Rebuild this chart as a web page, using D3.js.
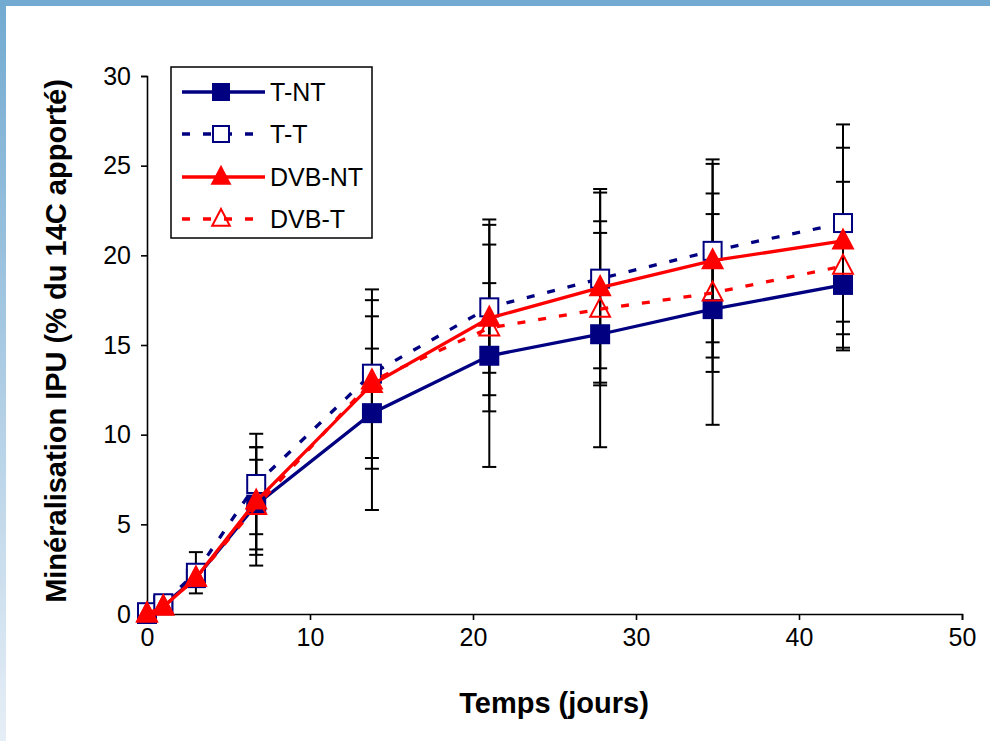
<!DOCTYPE html>
<html><head><meta charset="utf-8">
<script src="https://cdn.jsdelivr.net/npm/d3@7"></script>
<style>
html,body{margin:0;padding:0;background:#fff;}
svg{display:block;font-family:Arial,"Liberation Sans",sans-serif;}
</style></head>
<body>
<svg id="c" width="990" height="741"></svg>
<script>
const days = [0, 1, 3, 6.7, 13.8, 21, 27.8, 34.7, 42.7];
const seriesNames = ["T-NT", "T-T", "DVB-NT", "DVB-T"];
const valTNT  = [0, 0.5, 2.0, 6.1, 11.2, 14.4, 15.6, 17.0, 18.35];
const valTT   = [0.1, 0.6, 2.3, 7.25, 13.4, 17.1, 18.7, 20.25, 21.8];
const valDVBNT= [0, 0.4, 2.0, 6.3, 12.8, 16.5, 18.2, 19.7, 20.8];
const valDVBT = [0, 0.4, 2.0, 6.0, 13.0, 15.95, 17.0, 17.9, 19.4];
const errTNT  = [0, 0.2, 0.3, 2.5, 5.4, 6.2, 6.3, 6.45, 3.5];
const errTT   = [0, 0.2, 1.15, 2.8, 4.7, 4.9, 5.0, 5.1, 5.5];
const errDVBNT= [0, 0.2, 0.3, 3.0, 4.7, 5.2, 5.3, 5.4, 5.2];
const errDVBT = [0, 0.2, 0.3, 3.3, 1.8, 2.5, 4.25, 4.4, 4.7];
const xTicks = [0, 10, 20, 30, 40, 50];
const yTicks = [0, 5, 10, 15, 20, 25, 30];
const xTitle = "Temps (jours)";
const yTitle = "Minéralisation IPU (% du 14C apporté)";

const navy = "#000080", red = "#ff0000";
const styles = [
  {color: navy, dash: null, marker: "square", filled: true},
  {color: navy, dash: "8,13", marker: "square", filled: false},
  {color: red, dash: null, marker: "triangle", filled: true},
  {color: red, dash: "8,13", marker: "triangle", filled: false}
];
const vals = [valTNT, valTT, valDVBNT, valDVBT];
const errs = [errTNT, errTT, errDVBNT, errDVBT];

const svg = d3.select("#c");
// frame decoration
const defs = svg.append("defs");
const lg = defs.append("linearGradient").attr("id","lb").attr("x1",0).attr("y1",0).attr("x2",0).attr("y2",1);
lg.append("stop").attr("offset","0%").attr("stop-color","#72aad1");
lg.append("stop").attr("offset","100%").attr("stop-color","#e6eef6");
svg.append("rect").attr("x",0).attr("y",0).attr("width",6).attr("height",741).attr("fill","url(#lb)");
svg.append("rect").attr("x",0).attr("y",0).attr("width",990).attr("height",6).attr("fill","#72aad1");

const x = d3.scaleLinear().domain([0, 50]).range([147, 962]);
const y = d3.scaleLinear().domain([0, 30]).range([614, 76]);

// axes
const gx = svg.append("g").attr("transform", `translate(0,${y(0)})`)
  .call(d3.axisBottom(x).tickValues(xTicks).tickSize(6).tickPadding(8));
const gy = svg.append("g").attr("transform", `translate(${x(0)},0)`)
  .call(d3.axisLeft(y).tickValues(yTicks).tickSize(6).tickPadding(10));
[gx, gy].forEach(g => {
  g.select(".domain").attr("stroke","#000").attr("stroke-width",1.6);
  g.selectAll(".tick line").attr("stroke","#000").attr("stroke-width",1.6);
  g.selectAll(".tick text").attr("fill","#000").attr("font-size",25).attr("font-family","Arial,'Liberation Sans',sans-serif");
});

// titles
svg.append("text").attr("x", 554).attr("y", 713).attr("text-anchor","middle")
  .attr("font-size",29).attr("font-weight","bold").text(xTitle);
svg.append("text").attr("transform","translate(66,341) rotate(-90)").attr("text-anchor","middle")
  .attr("font-size",29).attr("font-weight","bold").text(yTitle);

// error bars
const capW = 7;
vals.forEach((v, s) => {
  const g = svg.append("g").attr("stroke","#000").attr("stroke-width",2);
  days.forEach((d, i) => {
    const e = errs[s][i];
    if (e <= 0) return;
    const cx = x(d), y1 = y(v[i] + e), y2 = y(v[i] - e);
    g.append("line").attr("x1",cx).attr("x2",cx).attr("y1",y1).attr("y2",y2);
    g.append("line").attr("x1",cx-capW).attr("x2",cx+capW).attr("y1",y1).attr("y2",y1);
    g.append("line").attr("x1",cx-capW).attr("x2",cx+capW).attr("y1",y2).attr("y2",y2);
  });
});

function drawMarker(g, st, cx, cy, size) {
  if (st.marker === "square") {
    const h = size/2;
    g.append("rect").attr("x",cx-h).attr("y",cy-h).attr("width",size).attr("height",size)
      .attr("fill", st.filled ? st.color : "#fff").attr("stroke", st.color).attr("stroke-width",2);
  } else {
    const w = size*1.1, h = size*1.05;
    const pts = [[cx, cy - h*0.6],[cx + w/2, cy + h*0.4],[cx - w/2, cy + h*0.4]];
    g.append("path").attr("d", d3.line()(pts) + "Z")
      .attr("fill", st.filled ? st.color : "none").attr("stroke", st.color).attr("stroke-width",2);
  }
}

const line = d3.line().x((d,i) => x(days[i])).y(d => y(d));
vals.forEach((v, s) => {
  const st = styles[s];
  const g = svg.append("g");
  g.append("path").attr("d", line(v)).attr("fill","none").attr("stroke", st.color)
    .attr("stroke-width",3.3).attr("stroke-dasharray", st.dash);
  v.forEach((val, i) => drawMarker(g, st, x(days[i]), y(val), 18));
});

// legend
const lgd = svg.append("g");
lgd.append("rect").attr("x",171).attr("y",67).attr("width",201).attr("height",171)
  .attr("fill","#fff").attr("stroke","#000").attr("stroke-width",1.5);
const rowsY = [92, 134, 177, 219];
seriesNames.forEach((name, s) => {
  const st = styles[s];
  const ry = rowsY[s];
  lgd.append("line").attr("x1",182).attr("x2",265).attr("y1",ry).attr("y2",ry)
    .attr("stroke", st.color).attr("stroke-width",3.3).attr("stroke-dasharray", st.dash);
  drawMarker(lgd, st, 221, ry, 16);
  lgd.append("text").attr("x",270).attr("y",ry).attr("dy","0.36em").attr("font-size",25).text(name);
});
</script>
</body></html>
